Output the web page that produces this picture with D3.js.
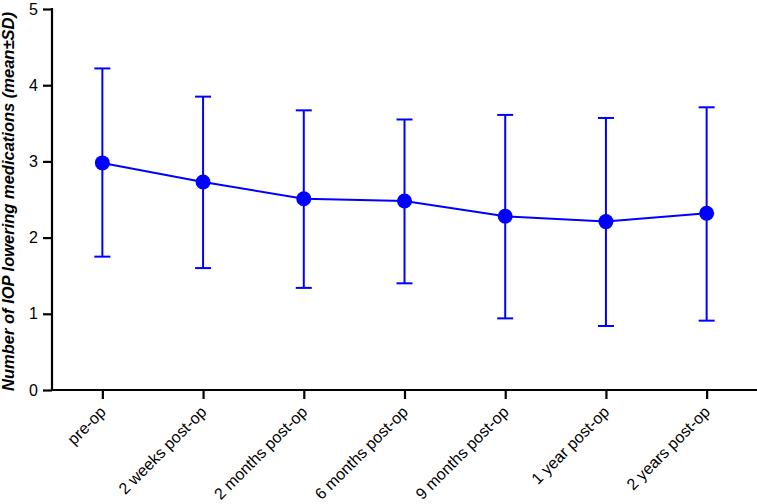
<!DOCTYPE html>
<html>
<head>
<meta charset="utf-8">
<script src="https://cdn.jsdelivr.net/npm/d3@7"></script>
<style>
  html, body { margin: 0; padding: 0; background: #fff; }
  svg { display: block; font-family: "Liberation Sans", Arial, sans-serif; }
</style>
</head>
<body>
<svg id="chart" width="757" height="504"></svg>
<script>
const categories = ["pre-op", "2 weeks post-op", "2 months post-op", "6 months post-op", "9 months post-op", "1 year post-op", "2 years post-op"];
const means = [2.98, 2.73, 2.51, 2.48, 2.28, 2.21, 2.32];
const upper = [4.22, 3.85, 3.67, 3.55, 3.61, 3.57, 3.71];
const lower = [1.75, 1.60, 1.34, 1.40, 0.94, 0.84, 0.91];
const yTicks = [0, 1, 2, 3, 4, 5];

const data = categories.map((c, i) => ({ c, m: means[i], hi: upper[i], lo: lower[i] }));

const svg = d3.select("#chart");
const mLeft = 52, mRight = 757, mTop = 9, mBottom = 390;
const blue = "#0000ff";

const x = d3.scalePoint().domain(categories).range([mLeft, mRight]).padding(0.5);
const y = d3.scaleLinear().domain([0, 5]).range([mBottom, mTop]);

// Y axis
const yAxis = svg.append("g").attr("transform", `translate(${mLeft},0)`)
  .call(d3.axisLeft(y).tickValues(yTicks).tickSize(9).tickPadding(5).tickFormat(d3.format("d")));
yAxis.attr("font-size", 16).attr("font-family", "Liberation Sans, Arial, sans-serif");
yAxis.select(".domain").attr("stroke", "#000").attr("stroke-width", 2.2).attr("d", `M0,${mBottom}V${mTop - 1}`);
yAxis.selectAll(".tick line").attr("stroke", "#000").attr("stroke-width", 2.2);
yAxis.selectAll(".tick text").attr("fill", "#000");

// X axis
const xAxis = svg.append("g").attr("transform", `translate(0,${mBottom})`)
  .call(d3.axisBottom(x).tickSize(9).tickSizeOuter(0));
xAxis.attr("font-size", 16).attr("font-family", "Liberation Sans, Arial, sans-serif");
xAxis.select(".domain").attr("stroke", "#000").attr("stroke-width", 2.2).attr("d", `M${mLeft - 1},0H${mRight}`);
xAxis.selectAll(".tick line").attr("stroke", "#000").attr("stroke-width", 2.2);
xAxis.selectAll(".tick text")
  .attr("fill", "#000")
  .attr("text-anchor", "end")
  .attr("y", 0)
  .attr("dy", "0.35em")
  .attr("transform", "translate(0,19) rotate(-45)");

// Y label
svg.append("text")
  .attr("transform", `translate(14,${(mTop + mBottom) / 2 + 2}) rotate(-90)`)
  .attr("text-anchor", "middle")
  .attr("font-size", 16.5)
  .attr("font-weight", "bold")
  .attr("font-style", "italic")
  .attr("font-family", "Liberation Sans, Arial, sans-serif")
  .text("Number of IOP lowering medications (mean±SD)");

// Error bars
const eb = svg.append("g");
data.forEach(d => {
  const cx = x(d.c);
  eb.append("line").attr("x1", cx).attr("x2", cx).attr("y1", y(d.hi)).attr("y2", y(d.lo))
    .attr("stroke", blue).attr("stroke-width", 2);
  [d.hi, d.lo].forEach(v => {
    eb.append("line").attr("x1", cx - 8).attr("x2", cx + 8).attr("y1", y(v)).attr("y2", y(v))
      .attr("stroke", blue).attr("stroke-width", 2);
  });
});

// Line
svg.append("path").datum(data)
  .attr("fill", "none").attr("stroke", blue).attr("stroke-width", 2)
  .attr("d", d3.line().x(d => x(d.c)).y(d => y(d.m)));

// Points
svg.append("g").selectAll("circle").data(data).join("circle")
  .attr("cx", d => x(d.c)).attr("cy", d => y(d.m)).attr("r", 7.5).attr("fill", blue);
</script>
</body>
</html>
